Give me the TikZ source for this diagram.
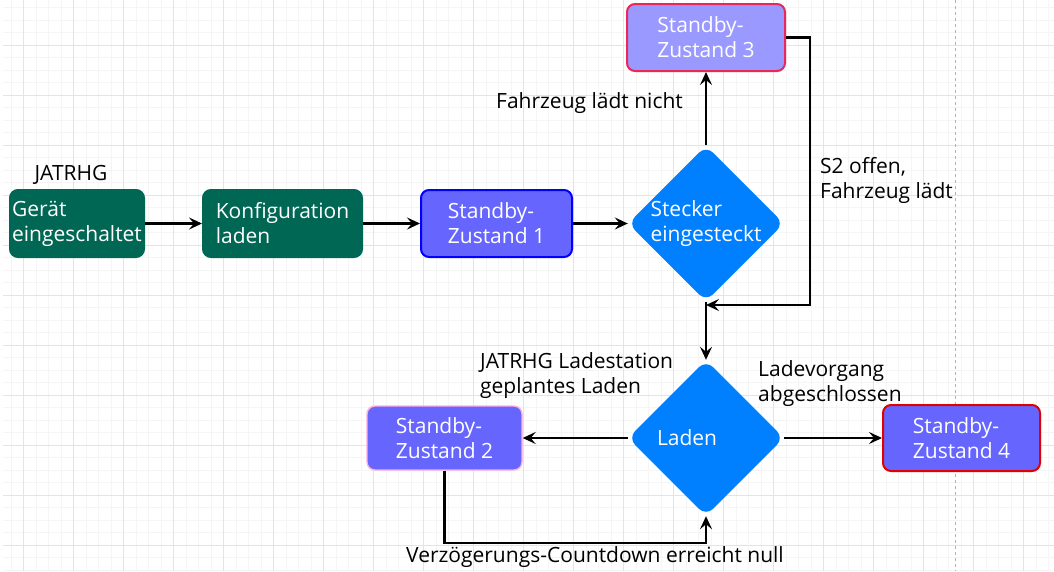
\documentclass[tikz,border=0pt]{standalone}
\usepackage{fontspec}
\setmainfont{Open Sans}
\definecolor{gridMinor}{RGB}{245,245,245}
\definecolor{gridMajor}{RGB}{228,228,228}
\definecolor{stateGreen}{RGB}{0,103,84}
\definecolor{stateBlue}{RGB}{102,102,255}
\definecolor{stateLilac}{RGB}{153,153,255}
\definecolor{decisionBlue}{RGB}{0,128,255}
\definecolor{borderBlue}{RGB}{0,0,255}
\definecolor{borderCrimson}{RGB}{232,40,90}
\definecolor{borderRed}{RGB}{225,0,0}
\definecolor{borderPink}{RGB}{255,175,225}
\usetikzlibrary{positioning, calc, shapes.geometric, arrows.meta}

\begin{document}
\begin{tikzpicture}[
    x=1pt, y=-1pt,
    font=\fontsize{21}{25}\selectfont,
    gridminor/.style={draw=gridMinor, line width=0.8pt},
    gridmajor/.style={draw=gridMajor, line width=1pt},
    state/.style={rectangle, rounded corners=8pt, fill=stateBlue, text=white,
                  align=left, inner sep=0pt, minimum height=67pt, line width=2pt},
    startbox/.style={state, fill=stateGreen, draw=stateGreen},
    decision/.style={diamond, fill=decisionBlue, text=white, align=left,
                     inner sep=-6pt, minimum width=156pt, minimum height=156pt,
                     rounded corners=10pt},
    cond/.style={align=left, inner sep=0pt, text=black},
    flow/.style={line width=2.4pt, -{Stealth[length=13pt, width=12pt, inset=5pt]}},
  ]
    \fill[white] (0,0) rectangle (1054,571);
    \useasboundingbox (0,0) rectangle (1054,571);
    \foreach \k in {-1,...,82} \draw[gridminor] ({23.5+12.5*\k},0) -- ({23.5+12.5*\k},571);
    \foreach \k in {-3,...,42} \draw[gridminor] (3,{45+12.5*\k}) -- (1054,{45+12.5*\k});
    \foreach \k in {0,...,20} \draw[gridmajor] ({23.5+50*\k},0) -- ({23.5+50*\k},571);
    \foreach \k in {0,...,10} \draw[gridmajor] (3,{45+50*\k}) -- (1054,{45+50*\k});
    \draw[gray!60, dashed, line width=0.8pt] (955,0) -- (955,571);

    \node[startbox, minimum width=134pt] (geraet) at (77,223.5) {Gerät\\eingeschaltet};
    \node[startbox, minimum width=159pt] (konfig) at (282.5,223.5) {Konfiguration\\laden};
    \node[state, draw=borderBlue, minimum width=151pt] (standbyA) at (496.5,223.5) {Standby-\\Zustand 1};
    \node[decision] (stecker) at (706,223.5) {Stecker\\eingesteckt};
    \node[state, fill=stateLilac, draw=borderCrimson, minimum width=158pt] (standbyC) at (706,37.5) {Standby-\\Zustand 3};
    \node[decision, text width=98pt] (laden) at (706,438) {Laden};
    \node[state, draw=borderPink, line width=1.4pt, minimum width=155pt, minimum height=64pt] (standbyB) at (444.5,438) {Standby-\\Zustand 2};
    \node[state, draw=borderRed, minimum width=157pt, minimum height=66pt] (standbyD) at (961.5,438) {Standby-\\Zustand 4};

    \node[cond] (jatrhg) at (71,175) {JATRHG};
    \node[cond] (nichtLaedt) at (589.5,103) {Fahrzeug lädt nicht};
    \node[cond, anchor=west] (s2offen) at (820,180) {S2 offen,\\Fahrzeug lädt};
    \node[cond, anchor=west] (geplant) at (480,375.5) {JATRHG Ladestation\\geplantes Laden};
    \node[cond, anchor=west] (abgeschl) at (758,383.5) {Ladevorgang\\abgeschlossen};
    \node[cond, anchor=west] (countdown) at (406,557) {Verzögerungs-Countdown erreicht null};

    \coordinate (merge) at (706,305);
    \coordinate (loopEnd) at (706,543);

    \draw[flow] (geraet) -- (konfig);
    \draw[flow] (konfig) -- (standbyA);
    \draw[flow] (standbyA) -- (stecker);
    \draw[flow] (stecker) -- (standbyC);
    \draw[flow] (standbyC.east) -- ++(24,0) |- (merge);
    \draw[flow] (stecker.south) -- (laden.north);
    \draw[flow] (laden) -- (standbyB);
    \draw[flow] (laden) -- (standbyD);
    \draw[flow] (standbyB.south) |- (loopEnd) -- (laden.south);
  \end{tikzpicture}
\end{document}
